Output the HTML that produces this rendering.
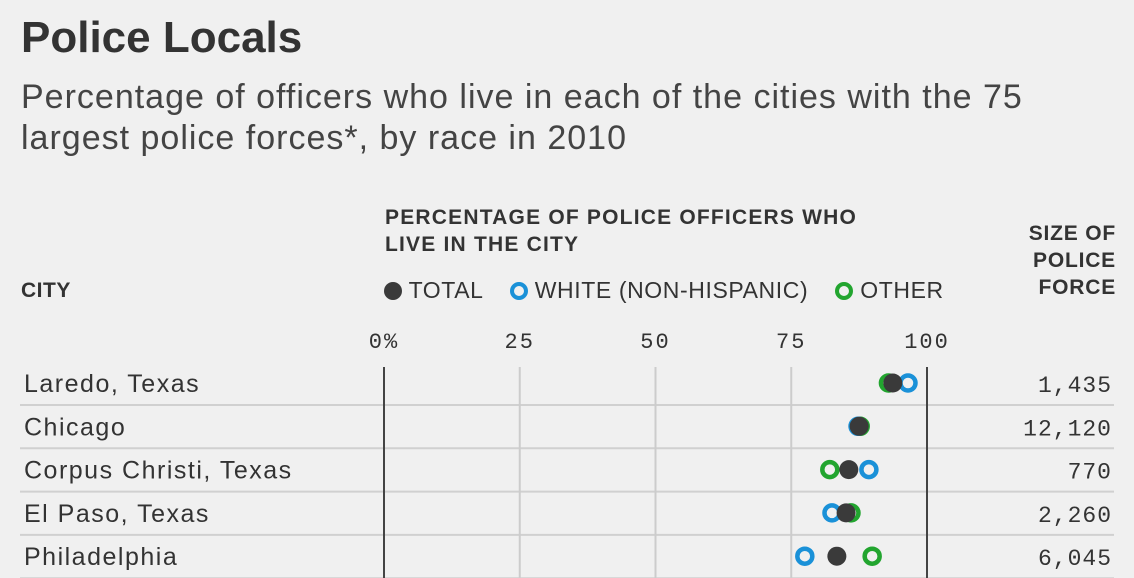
<!DOCTYPE html>
<html><head><meta charset="utf-8"><style>
html,body{margin:0;padding:0;background:#f0f0f0;}
body{width:1134px;height:578px;overflow:hidden;position:relative;font-family:"Liberation Sans",sans-serif;color:#333;}
.t{position:absolute;white-space:nowrap;}
</style></head><body>
<div class="t" style="left:21px;top:13px;font-size:44px;font-weight:bold;color:#333;letter-spacing:0px">Police Locals</div>
<div class="t" style="left:21px;top:77px;font-size:34px;line-height:41px;color:#444;letter-spacing:1px">Percentage of officers who live in each of the cities with the 75<br>largest police forces*, by race in 2010</div>
<div class="t" style="left:385px;top:204px;font-size:21px;line-height:27px;font-weight:bold;letter-spacing:1.2px">PERCENTAGE OF POLICE OFFICERS WHO<br>LIVE IN THE CITY</div>
<div class="t" style="left:21px;top:279px;font-size:21px;font-weight:bold;letter-spacing:0.5px">CITY</div>
<div class="t" style="right:18px;top:220px;font-size:21px;line-height:27px;font-weight:bold;text-align:right;letter-spacing:0.8px">SIZE OF<br>POLICE<br>FORCE</div>
<div class="t" style="left:384px;top:277px;font-size:23px;color:#333;letter-spacing:0.6px">
<span><span style="display:inline-block;width:18px;height:18px;border-radius:50%;background:#3a3a3a;vertical-align:-2px"></span> TOTAL</span>
<span style="margin-left:20px"><span style="display:inline-block;width:10px;height:10px;border-radius:50%;border:4px solid #1a91d8;vertical-align:-2px"></span> WHITE (NON-HISPANIC)</span>
<span style="margin-left:20px"><span style="display:inline-block;width:10px;height:10px;border-radius:50%;border:4px solid #22a52f;vertical-align:-2px"></span> OTHER</span>
</div>
<svg id="chart" width="1134" height="578" style="position:absolute;left:0;top:0"></svg>
<script>
const cities=["Laredo, Texas","Chicago","Corpus Christi, Texas","El Paso, Texas","Philadelphia"];
const totalVals=[93.7,87.5,85.6,85.1,83.4];
const whiteVals=[96.5,87.3,89.3,82.5,77.5];
const otherVals=[92.9,87.7,82.1,86.0,89.9];
const sizes=["1,435","12,120","770","2,260","6,045"];
const ticks=[0,25,50,75,100];
const tickLabels=["0%","25","50","75","100"];
const NS="http://www.w3.org/2000/svg";
const svg=document.getElementById('chart');
const x=v=>384+v*5.43;
const y=i=>383+i*43.3;
function mk(tag,a){const e=document.createElementNS(NS,tag);for(const k in a)e.setAttribute(k,a[k]);svg.appendChild(e);return e;}
cities.forEach((c,i)=>{
  const l=mk('line',{x1:20,x2:1114,y1:y(i)+22,y2:y(i)+22,stroke:'#d0d0d0','stroke-width':2});
  
  
});
ticks.forEach((t,i)=>{
  const ln=mk('line',{x1:x(t),x2:x(t),y1:367,y2:578,stroke:(t==0||t==100)?'#444':'#ccc','stroke-width':2});
  
  
  const tx=mk('text',{x:x(t),y:348,'text-anchor':'middle','font-family':'Liberation Mono, monospace','font-size':22,fill:'#333','letter-spacing':2});
  tx.textContent=tickLabels[i];
  
  
});
cities.forEach((c,i)=>{
  const ct=mk('text',{x:24,y:y(i)+9,'font-family':'Liberation Sans, sans-serif','font-size':25,fill:'#333','letter-spacing':1.5});
  ct.textContent=c;
  
  
  const st=mk('text',{x:1112,y:y(i)+9,'text-anchor':'end','font-family':'Liberation Mono, monospace','font-size':23,fill:'#333','letter-spacing':1});
  st.textContent=sizes[i];
  
  
  const g=mk('circle',{cx:x(otherVals[i]),cy:y(i),r:7.5,fill:'none',stroke:'#22a52f','stroke-width':4.5});
  
  
  const b=mk('circle',{cx:x(whiteVals[i]),cy:y(i),r:7.5,fill:'none',stroke:'#1a91d8','stroke-width':4.5});
  
  
  const d=mk('circle',{cx:x(totalVals[i]),cy:y(i),r:9.5,fill:'#3a3a3a'});
  
  
});
</script>
</body></html>
